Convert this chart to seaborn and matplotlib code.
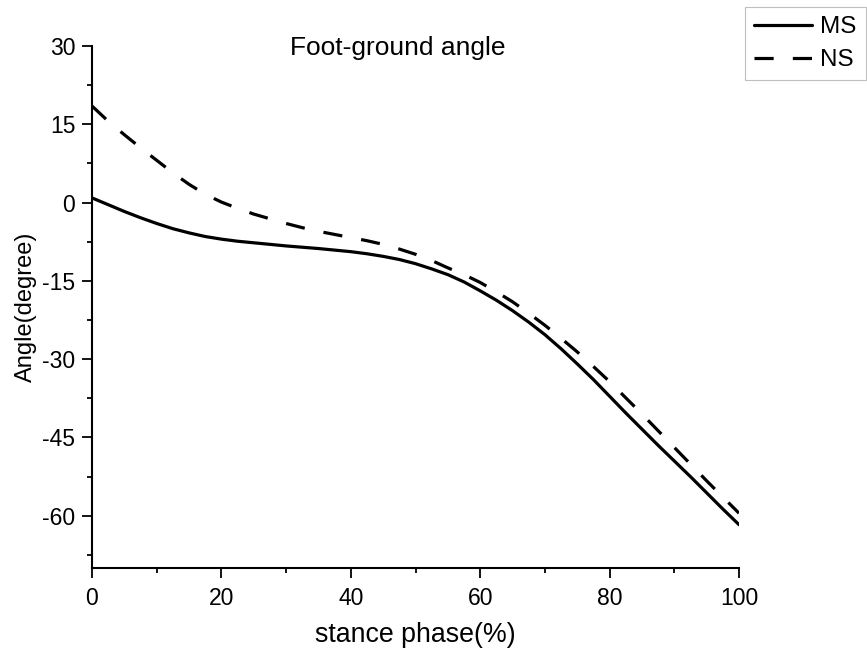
import numpy as np
import pandas as pd
import matplotlib
matplotlib.use("Agg")
import matplotlib.pyplot as plt
from matplotlib.ticker import MultipleLocator
from matplotlib.lines import Line2D
import seaborn as sns

stance = [0, 2.5, 5, 7.5, 10, 12.5, 15, 17.5, 20, 22.5, 25, 27.5, 30, 32.5, 35, 37.5,
          40, 42.5, 45, 47.5, 50, 52.5, 55, 57.5, 60, 62.5, 65, 67.5, 70, 72.5, 75,
          77.5, 80, 82.5, 85, 87.5, 90, 92.5, 95, 97.5, 100]
ms = [0.9, -0.4, -1.7, -2.9, -4.0, -5.0, -5.8, -6.5, -7.0, -7.4, -7.7, -8.0, -8.3,
      -8.55, -8.8, -9.1, -9.4, -9.8, -10.3, -10.9, -11.7, -12.7, -13.8, -15.2, -16.9,
      -18.7, -20.7, -22.9, -25.3, -28.0, -30.9, -33.9, -37.1, -40.3, -43.4, -46.5,
      -49.5, -52.5, -55.6, -58.7, -61.7]
ns = [18.5, 15.6, 13.0, 10.5, 8.1, 5.7, 3.5, 1.6, 0.1, -1.1, -2.2, -3.1, -4.0,
      -4.8, -5.5, -6.1, -6.7, -7.3, -8.0, -8.9, -9.9, -11.1, -12.5, -13.8, -15.3,
      -17.1, -19.0, -21.2, -23.5, -26.0, -28.6, -31.4, -34.3, -37.4, -40.5, -43.7,
      -46.9, -50.1, -53.3, -56.4, -59.5]
series = ["MS", "NS"]
x_ticks = [0, 20, 40, 60, 80, 100]
y_ticks = [30, 15, 0, -15, -30, -45, -60]

df = pd.DataFrame({
    "stance": stance * 2,
    "angle": ms + ns,
    "group": ["MS"] * len(stance) + ["NS"] * len(stance),
})

sns.set_theme(style="ticks")
plt.rcParams["font.family"] = ["Liberation Sans", "DejaVu Sans"]
plt.rcParams["axes.unicode_minus"] = False
plt.rcParams["text.color"] = "black"
plt.rcParams["axes.labelcolor"] = "black"

fig = plt.figure(figsize=(8.67, 6.53), dpi=100)
ax = fig.add_axes([92 / 867, 1 - 568 / 653, (739 - 92) / 867, (568 - 46) / 653])

sns.lineplot(data=df, x="stance", y="angle", hue="group", style="group",
             palette={"MS": "black", "NS": "black"},
             dashes={"MS": "", "NS": (6, 6)}, linewidth=2.3, ax=ax, legend=False)

ax.set_xlim(0, 100)
ax.set_ylim(-70, 30)
ax.set_xticks(x_ticks)
ax.set_yticks(y_ticks)
ax.xaxis.set_minor_locator(MultipleLocator(10))
ax.yaxis.set_minor_locator(MultipleLocator(7.5))
ax.tick_params(axis="both", which="major", length=7, width=1.3, labelsize=16.5,
               color="black", labelcolor="black", direction="out")
ax.tick_params(axis="x", which="major", pad=7)
ax.tick_params(axis="y", which="major", pad=5)
ax.tick_params(axis="both", which="minor", length=3.6, width=1.3, color="black")
for s in ["left", "bottom"]:
    ax.spines[s].set_linewidth(1.5)
    ax.spines[s].set_color("black")
sns.despine(ax=ax)

ax.set_xlabel("stance phase(%)", fontsize=19.3, labelpad=8, color="black")
ax.set_ylabel("Angle(degree)", fontsize=17, labelpad=4, color="black")

fig.text(398 / 867, 1 - 55 / 653, "Foot-ground angle", ha="center", va="baseline",
         fontsize=19, color="black")

handles = [Line2D([], [], color="black", lw=2.3),
           Line2D([], [], color="black", lw=2.3, dashes=(6, 6))]
leg = fig.legend(handles, series, loc="upper right",
                 bbox_to_anchor=(866 / 867, 1 - 7 / 653), fontsize=17.5,
                 frameon=True, fancybox=False, handlelength=2.4,
                 handletextpad=0.33, borderpad=0.38, labelspacing=0.45,
                 borderaxespad=0, labelcolor="black")
leg.get_frame().set_edgecolor("#b0b0b0")
leg.get_frame().set_linewidth(0.8)

fig.savefig("out.png", dpi=100)
